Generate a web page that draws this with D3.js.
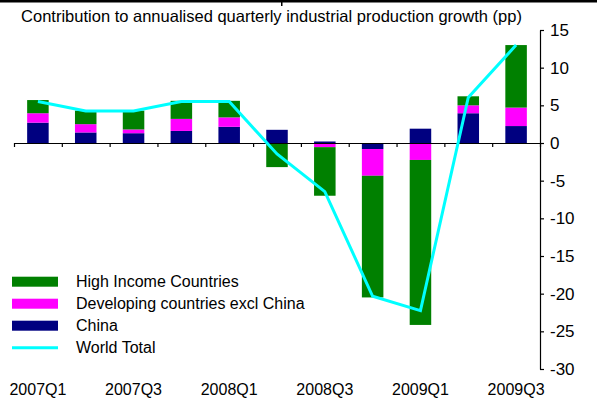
<!DOCTYPE html>
<html>
<head>
<meta charset="utf-8">
<script src="https://cdnjs.cloudflare.com/ajax/libs/d3/7.8.5/d3.min.js"></script>
<style>
  body { margin: 0; background: #fff; }
  text { font-family: "Liberation Sans", Arial, sans-serif; fill: #000; }
</style>
</head>
<body>
<div id="plot"></div>
<script>
const w = 597;
const h = 417;

const quarters = ["2007Q1", "2007Q2", "2007Q3", "2007Q4", "2008Q1", "2008Q2",
  "2008Q3", "2008Q4", "2009Q1", "2009Q2", "2009Q3"];
const china = [2.7, 1.4, 1.3, 1.6, 2.15, 1.75, 0.2, -0.8, 1.9, 3.95, 2.25];
const developing = [1.25, 1.1, 0.5, 1.6, 1.25, 0, -0.55, -3.55, -2.25, 1.05, 2.45];
const highIncome = [1.75, 1.8, 2.5, 2.4, 2.2, -3.2, -6.45, -16.15, -21.9, 1.2, 8.3];
const worldTotal = [5.5, 4.25, 4.25, 5.5, 5.5, -1.45, -6.45, -20.35, -22.25, 6.05, 13.0];
const yTicks = [15, 10, 5, 0, -5, -10, -15, -20, -25, -30];
const xLabels = ["2007Q1", "2007Q3", "2008Q1", "2008Q3", "2009Q1", "2009Q3"];

const seriesKeys = ["china", "developing", "highIncome"];
const seriesNames = {
  highIncome: "High Income Countries",
  developing: "Developing countries excl China",
  china: "China"
};
const colors = { china: "#000080", developing: "#ff00ff", highIncome: "#008000" };
const lineColor = "#00ffff";

const table = quarters.map((q, i) => ({
  q: q,
  china: china[i],
  developing: developing[i],
  highIncome: highIncome[i],
  world: worldTotal[i]
}));

const stack = d3.stack().keys(seriesKeys).offset(d3.stackOffsetDiverging);
const stacked = stack(table);

const x = d3.scaleBand().domain(quarters).range([14, 540]).padding(0);
const xi = d3.scaleLinear().domain([0, quarters.length]).range([14, 540]);
const y = d3.scaleLinear().domain([-30, 15]).range([369, 30]);

const svg = d3.select("#plot").
append("svg").
attr("width", w).
attr("height", h);

// thin rule at the very top of the image
svg.append("rect").
attr("x", 0).
attr("y", 0).
attr("width", w).
attr("height", 2.5).
attr("fill", "#000");
svg.append("rect").
attr("x", 281).
attr("y", 0).
attr("width", 1.5).
attr("height", 6).
attr("fill", "#000");

svg.append("text").
attr("x", 271.5).
attr("y", 22).
attr("text-anchor", "middle").
style("font-size", "16.5px").
text("Contribution to annualised quarterly industrial production growth (pp)");

// bars
const bw = x.bandwidth() * 0.45;
svg.append("g").
selectAll("g").
data(stacked).
enter().
append("g").
attr("fill", d => colors[d.key]).
selectAll("rect").
data(d => d).
enter().
append("rect").
attr("x", d => x(d.data.q) + (x.bandwidth() - bw) / 2).
attr("width", bw).
attr("y", d => y(Math.max(d[0], d[1]))).
attr("height", d => Math.abs(y(d[0]) - y(d[1])));

// zero axis with ticks between categories
svg.append("g").
attr("transform", "translate(0," + y(0) + ")").
call(d3.axisBottom(xi).ticks(quarters.length).tickSize(4).tickSizeOuter(0).tickFormat("")).
call(g => g.selectAll("line,path").attr("stroke", "#000").attr("stroke-width", 1.2));

// world total line
const line = d3.line().
x(d => x(d.q) + x.bandwidth() / 2).
y(d => y(d.world));

svg.append("path").
datum(table).
attr("d", line).
attr("fill", "none").
attr("stroke", lineColor).
attr("stroke-width", 3).
attr("stroke-linejoin", "miter");

// right axis
const yAxis = d3.axisRight(y).
tickValues(yTicks).
tickSize(4).
tickSizeOuter(0).
tickPadding(6).
tickFormat(d => String(d));

svg.append("g").
attr("transform", "translate(540,0)").
call(yAxis).
call(g => g.selectAll("line,path").attr("stroke", "#000").attr("stroke-width", 1.2)).
call(g => g.selectAll("text").style("font-size", "17px").attr("font-family", null));

// bottom labels
svg.append("g").
attr("transform", "translate(0,380)").
call(d3.axisBottom(x).tickValues(xLabels).tickSize(0).tickPadding(4)).
call(g => g.select(".domain").remove()).
call(g => g.selectAll("text").style("font-size", "16px").attr("font-family", null));

// legend
const legendKeys = ["highIncome", "developing", "china", "world"];
const legend = svg.append("g").attr("id", "legend");
legendKeys.forEach((k, i) => {
  const cy = 281.7 + i * 22;
  if (k === "world") {
    legend.append("line").
    attr("x1", 12).
    attr("x2", 58).
    attr("y1", cy).
    attr("y2", cy).
    attr("stroke", lineColor).
    attr("stroke-width", 3);
  } else {
    legend.append("rect").
    attr("x", 12).
    attr("y", cy - 5).
    attr("width", 46).
    attr("height", 10).
    attr("fill", colors[k]);
  }
  legend.append("text").
  attr("x", 76).
  attr("y", cy).
  attr("dy", "0.35em").
  style("font-size", "16px").
  text(k === "world" ? "World Total" : seriesNames[k]);
});
</script>
</body>
</html>
